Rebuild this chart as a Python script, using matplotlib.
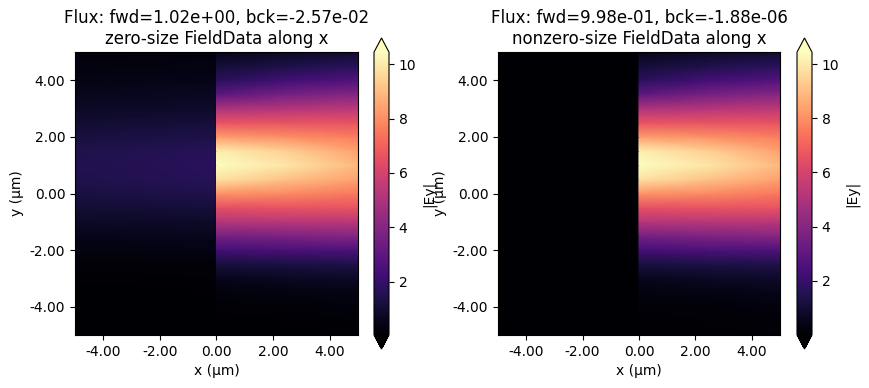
import numpy as np
import matplotlib
matplotlib.use('Agg')
import matplotlib.pyplot as plt
from matplotlib.ticker import FormatStrFormatter

# y positions of the sampled rows (um)
y_rows = [-5.0, -4.5, -4.0, -3.5, -3.0, -2.5, -2.0, -1.5, -1.0, -0.5, 0.0,
          0.5, 1.0, 1.5, 2.0, 2.5, 3.0, 3.5, 4.0, 4.5, 5.0]

# |Ey| profiles in the forward half (x > 0), same in both panels
fwd_x0 = [0.05, 0.08, 0.15, 0.3, 0.55, 1.2, 2.3, 3.6, 5.2, 6.5, 8.1,
          9.8, 10.44, 10.1, 8.3, 6.6, 5.0, 3.0, 1.7, 1.1, 0.5]
fwd_x25 = [0.07, 0.12, 0.2, 0.35, 0.7, 1.3, 2.5, 3.8, 5.3, 6.6, 7.9,
           9.1, 9.9, 9.4, 8.0, 6.6, 5.2, 3.6, 2.3, 1.4, 0.8]
fwd_x5 = [0.1, 0.2, 0.3, 0.45, 0.8, 1.4, 2.6, 4.0, 5.3, 6.6, 7.5,
          8.4, 8.9, 8.4, 7.6, 6.6, 5.4, 4.0, 2.7, 1.7, 1.0]

# |Ey| in the backward half (x < 0) for the zero-size monitor
bck_xm5 = [0.05, 0.05, 0.06, 0.08, 0.12, 0.22, 0.35, 0.55, 0.8, 1.05, 1.3,
           1.45, 1.5, 1.45, 1.25, 1.0, 0.8, 0.6, 0.45, 0.35, 0.3]
bck_x0 = [0.05, 0.06, 0.08, 0.11, 0.15, 0.25, 0.4, 0.6, 0.85, 1.15, 1.45,
          1.65, 1.75, 1.65, 1.4, 1.15, 0.9, 0.7, 0.5, 0.4, 0.3]

# x positions of the sampled columns (um)
x_cols = [-5.0, -0.01, 0.0, 2.5, 5.0]

titles = ['Flux: fwd=1.02e+00, bck=-2.57e-02\nzero-size FieldData along x',
          'Flux: fwd=9.98e-01, bck=-1.88e-06\nnonzero-size FieldData along x']

zeros = [0.0] * len(y_rows)
fields = [
    np.array([bck_xm5, bck_x0, fwd_x0, fwd_x25, fwd_x5]).T,
    np.array([zeros, zeros, fwd_x0, fwd_x25, fwd_x5]).T,
]

fig = plt.figure(figsize=(8.69, 3.88), dpi=100)
W, H = 869, 388
ax_boxes = [(75, 52, 283, 283), (498, 52, 282, 283)]
# colorbar boxes include the extend triangles
cb_boxes = [(374, 38, 15, 311), (797, 38, 15, 311)]


def to_fig(box):
    l, t, w, h = box
    return [l / W, (H - t - h) / H, w / W, h / H]


for field, title, axb, cbb in zip(fields, titles, ax_boxes, cb_boxes):
    ax = fig.add_axes(to_fig(axb))
    cax = fig.add_axes(to_fig(cbb))
    mesh = ax.pcolormesh(x_cols, y_rows, field, cmap='magma', shading='gouraud')
    cb = fig.colorbar(mesh, cax=cax, extend='both')
    cb.set_label('|Ey|')
    cb.set_ticks([2, 4, 6, 8, 10])
    ax.set_xlim(-5, 5)
    ax.set_ylim(-5, 5)
    ax.set_xticks([-4, -2, 0, 2, 4])
    ax.set_yticks([-4, -2, 0, 2, 4])
    ax.xaxis.set_major_formatter(FormatStrFormatter('%.2f'))
    ax.yaxis.set_major_formatter(FormatStrFormatter('%.2f'))
    ax.set_xlabel('x (\u03bcm)')
    ax.set_ylabel('y (\u03bcm)')
    ax.set_title(title)

fig.savefig('out.png', dpi=100)
plt.close(fig)
